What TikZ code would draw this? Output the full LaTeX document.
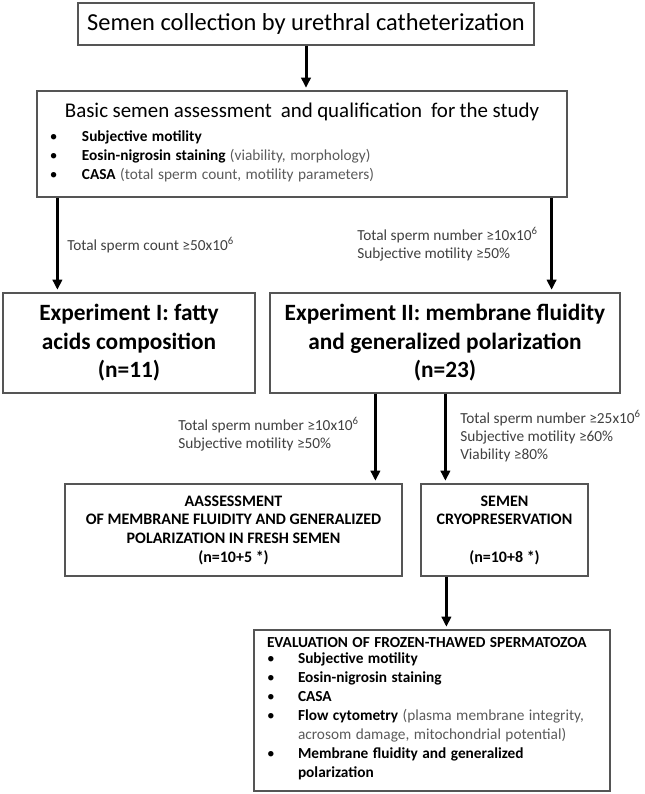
\documentclass[tikz,border=0pt]{standalone}
\usepackage{fontspec}
\setmainfont{Carlito}
\usetikzlibrary{arrows.meta}
\definecolor{boxline}{HTML}{555555}
\definecolor{condtext}{HTML}{404040}
\definecolor{notetext}{HTML}{5A5A5A}
\newcommand{\gr}[1]{\textcolor{notetext}{#1}}
\newcommand{\mil}{x10\textsuperscript{6}}

\begin{document}
\begin{tikzpicture}[x=0.75pt, y=-0.75pt,
	box/.style={draw=boxline, line width=0.9pt, align=center, inner sep=0pt},
	expbox/.style={box, font=\bfseries\fontsize{17.5}{21.4}\selectfont},
	capsbox/.style={box, font=\bfseries\fontsize{12}{14}\selectfont},
	cond/.style={anchor=west, align=left, inner sep=0pt, text=condtext, font=\fontsize{11.5}{13.5}\selectfont},
	flow/.style={line width=2.25pt, -{Triangle[length=7.5pt, width=7pt]}, shorten >=2pt}]
	\useasboundingbox (0,0) rectangle (645,794);

	% top of the chart
	\node[box, minimum width=342pt, minimum height=31.5pt, font=\fontsize{18.3}{21}\selectfont] (collect) at (306,24)
		{Semen collection by urethral catheterization};
	\node[box, minimum width=397.5pt, minimum height=79.5pt, text width=378pt, align=left] (assess) at (302,144)
		{{\centering\fontsize{15.7}{18}\selectfont Basic semen assessment\ \ and qualification\ \ for the study\par}
		\vspace{4pt}\fontsize{11.5}{14.25}\selectfont
		\begin{tabular}{@{}p{24pt}@{}l@{}}
			\textbullet & \textbf{Subjective motility}\\
			\textbullet & \textbf{Eosin-nigrosin staining} \gr{(viability, morphology)}\\
			\textbullet & \textbf{CASA} \gr{(total sperm count, motility parameters)}
		\end{tabular}};

	% the two experiments
	\node[expbox, minimum width=189pt, minimum height=75pt] (expI) at (129,343)
		{Experiment I: fatty\\acids composition\\(n=11)};
	\node[expbox, minimum width=262.5pt, minimum height=75pt] (expII) at (445,343)
		{Experiment II: membrane fluidity\\and generalized polarization\\(n=23)};

	% experiment II branches
	\node[capsbox, minimum width=252.75pt, minimum height=69pt] (fresh) at (233.5,530)
		{AASSESSMENT\\OF MEMBRANE FLUIDITY AND GENERALIZED\\POLARIZATION IN FRESH SEMEN\\(n=10+5 *)};
	\node[capsbox, minimum width=125.25pt, minimum height=69pt] (cryo) at (504.5,530)
		{SEMEN\\CRYOPRESERVATION\\\mbox{}\\(n=10+8 *)};
	\node[box, minimum width=267pt, minimum height=120.75pt, text width=247.5pt, inner xsep=9.75pt, align=left] (thaw) at (432,710.5)
		{\fontsize{11.5}{14.25}\selectfont\mbox{\textbf{EVALUATION OF FROZEN-THAWED SPERMATOZOA}}\\[1pt]
		\begin{tabular}{@{}p{23.25pt}@{}l@{}}
			\textbullet & \textbf{Subjective motility}\\
			\textbullet & \textbf{Eosin-nigrosin staining}\\
			\textbullet & \textbf{CASA}\\
			\textbullet & \textbf{Flow cytometry} \gr{(plasma membrane integrity,}\\
			 & \gr{acrosom damage, mitochondrial potential)}\\
			\textbullet & \textbf{Membrane fluidity and generalized}\\
			 & \textbf{polarization}
		\end{tabular}};

	% arrows
	\draw[flow] (collect.south) -- (collect.south |- assess.north);
	\path (assess.south west) ++(21,0) coordinate (dropA);
	\path (assess.south east) ++(-16,0) coordinate (dropB);
	\draw[flow] (dropA) -- (dropA |- expI.north);
	\draw[flow] (dropB) -- (dropB |- expII.north);
	\path (expII.south west) ++(106,0) coordinate (dropC);
	\path (expII.south west) ++(176,0) coordinate (dropD);
	\draw[flow] (dropC) -- (dropC |- fresh.north);
	\draw[flow] (dropD) -- (dropD |- cryo.north);
	\path (cryo.south west) ++(26,0) coordinate (dropE);
	\draw[flow] (dropE) -- (dropE |- thaw.north);

	% selection criteria
	\node[cond] (condA) at (67,245) {Total sperm count ≥50\mil};
	\node[cond] (condB) at (357,244) {Total sperm number ≥10\mil\\Subjective motility ≥50\%};
	\node[cond] (condC) at (178,434) {Total sperm number ≥10\mil\\Subjective motility ≥50\%};
	\node[cond] (condD) at (460,436) {Total sperm number ≥25\mil\\Subjective motility ≥60\%\\Viability ≥80\%};
\end{tikzpicture}
\end{document}
